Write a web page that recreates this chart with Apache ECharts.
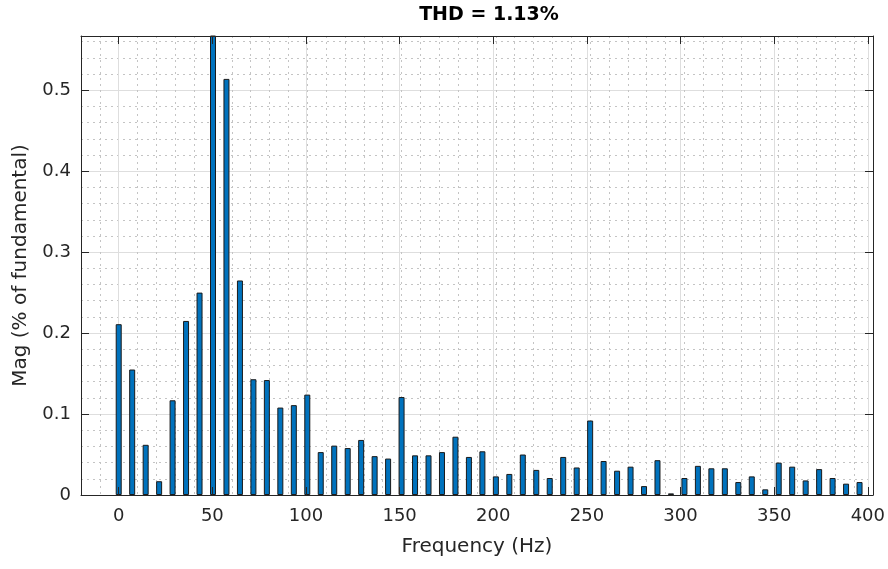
<!DOCTYPE html>
<html>
<head>
<meta charset="utf-8">
<script src="https://cdn.jsdelivr.net/npm/echarts@6/dist/echarts.min.js"></script>
<style>
html,body{margin:0;padding:0;background:#fff;}
#chart{width:888px;height:569px;}
</style>
</head>
<body>
<div id="chart"></div>
<script>
// Frequencies (Hz) of the spectrum bins
const frequencies = [0, 7.14, 14.29, 21.43, 28.57, 35.71, 42.86, 50, 57.14, 64.29,
  71.43, 78.57, 85.71, 92.86, 100, 107.14, 114.29, 121.43, 128.57, 135.71,
  142.86, 150, 157.14, 164.29, 171.43, 178.57, 185.71, 192.86, 200, 207.14,
  214.29, 221.43, 228.57, 235.71, 242.86, 250, 257.14, 264.29, 271.43, 278.57,
  285.71, 292.86, 300, 307.14, 314.29, 321.43, 328.57, 335.71, 342.86, 350,
  357.14, 364.29, 371.43, 378.57, 385.71, 392.86];
// Magnitude (% of fundamental)
const magnitudes = [0.211, 0.155, 0.062, 0.017, 0.117, 0.215, 0.250, 100, 0.514, 0.265,
  0.143, 0.142, 0.108, 0.111, 0.124, 0.053, 0.061, 0.058, 0.068, 0.048,
  0.045, 0.121, 0.049, 0.049, 0.053, 0.072, 0.047, 0.054, 0.023, 0.026,
  0.050, 0.031, 0.021, 0.047, 0.034, 0.092, 0.042, 0.030, 0.035, 0.011,
  0.043, 0.002, 0.021, 0.036, 0.033, 0.033, 0.016, 0.023, 0.007, 0.040,
  0.035, 0.018, 0.032, 0.021, 0.014, 0.016];
const xTickLabels = ['0', '50', '100', '150', '200', '250', '300', '350', '400'];
const yTickLabels = ['0', '0.1', '0.2', '0.3', '0.4', '0.5'];
const titleText = 'THD = 1.13%';
const xName = 'Frequency (Hz)';
const yName = 'Mag (% of fundamental)';

const X_MIN = -20, X_MAX = 400, Y_MIN = 0, Y_MAX = 0.567;
const GRID_L = 81, GRID_R = 15, GRID_T = 36, GRID_B = 74;
const plotW = 888 - GRID_L - GRID_R;
const grid1Left = GRID_L + (0 - X_MIN) / (X_MAX - X_MIN) * plotW;

const FONT = 'DejaVu Sans';
const TXT = '#262626';
const MAJOR = '#dedede';
const MINOR = '#c4c4c4';

const data = frequencies.map((f, i) => [f, magnitudes[i]]);

const off = {show: false};
const boxLine = {show: true, onZero: false, lineStyle: {color: TXT, width: 1}};
const tickIn = {show: true, inside: true, length: 8, lineStyle: {color: TXT, width: 1}};

const chart = echarts.init(document.getElementById('chart'), null, {renderer: 'canvas'});
chart.setOption({
  animation: false,
  backgroundColor: '#fff',
  title: {
    text: titleText,
    left: 484, top: 1, textAlign: 'center',
    textStyle: {fontFamily: FONT, fontWeight: 'bold', fontSize: 19, color: '#000'}
  },
  grid: [
    {left: GRID_L, right: GRID_R, top: GRID_T, bottom: GRID_B},
    {left: grid1Left, right: GRID_R, top: GRID_T, bottom: GRID_B}
  ],
  xAxis: [
    { // 0: minor grid + name
      gridIndex: 0, type: 'value', position: 'bottom', min: X_MIN, max: X_MAX, interval: 10,
      axisLine: off, axisTick: off, axisLabel: off,
      splitLine: {show: true, lineStyle: {color: MINOR, width: 1, type: [2, 4]}},
      name: xName, nameLocation: 'middle', nameGap: 42,
      nameTextStyle: {fontFamily: FONT, fontSize: 20, color: TXT},
      z: 0
    },
    { // 1: top box line
      gridIndex: 0, type: 'value', position: 'top', min: X_MIN, max: X_MAX, interval: 10,
      axisLine: boxLine, axisTick: off, axisLabel: off, splitLine: off, z: 4
    },
    { // 2: bottom box line
      gridIndex: 0, type: 'value', position: 'bottom', min: X_MIN, max: X_MAX, interval: 10,
      axisLine: boxLine, axisTick: off, axisLabel: off, splitLine: off, z: 4
    },
    { // 3: major grid and labels
      gridIndex: 1, type: 'value', position: 'bottom', min: 0, max: X_MAX, interval: 50,
      axisLine: off, axisTick: off,
      axisLabel: {show: true, margin: 12, fontFamily: FONT, fontSize: 18, color: TXT,
        formatter: v => { const i = Math.round(v / 50); return Math.abs(v - i * 50) < 1e-6 ? xTickLabels[i] : ''; }},
      splitLine: {show: true, lineStyle: {color: MAJOR, width: 1}},
      z: 0
    },
    { // 4: bottom ticks
      gridIndex: 1, type: 'value', position: 'bottom', min: 0, max: X_MAX, interval: 50,
      axisLine: off, axisTick: tickIn, axisLabel: off, splitLine: off, z: 4
    },
    { // 5: top ticks
      gridIndex: 1, type: 'value', position: 'top', min: 0, max: X_MAX, interval: 50,
      axisLine: off, axisTick: tickIn, axisLabel: off, splitLine: off, z: 4
    }
  ],
  yAxis: [
    { // 0: minor grid
      gridIndex: 0, type: 'value', position: 'left', min: Y_MIN, max: Y_MAX, interval: 0.02,
      axisLine: off, axisTick: off, axisLabel: off,
      splitLine: {show: true, lineStyle: {color: MINOR, width: 1, type: [2, 4]}},
      z: 0
    },
    { // 1: major grid, labels, name
      gridIndex: 0, type: 'value', position: 'left', min: Y_MIN, max: Y_MAX, interval: 0.1,
      axisLine: off, axisTick: off,
      axisLabel: {show: true, margin: 10, fontFamily: FONT, fontSize: 18, color: TXT,
        formatter: v => { const i = Math.round(v * 10); return Math.abs(v * 10 - i) < 1e-6 ? yTickLabels[i] : ''; }},
      splitLine: {show: true, lineStyle: {color: MAJOR, width: 1}},
      name: yName, nameLocation: 'middle', nameGap: 50, nameRotate: 90,
      nameTextStyle: {fontFamily: FONT, fontSize: 20, color: TXT},
      z: 0
    },
    { // 2: left box line + ticks
      gridIndex: 0, type: 'value', position: 'left', min: Y_MIN, max: Y_MAX, interval: 0.1,
      axisLine: boxLine, axisTick: tickIn, axisLabel: off, splitLine: off, z: 4
    },
    { // 3: right box line + ticks
      gridIndex: 0, type: 'value', position: 'right', min: Y_MIN, max: Y_MAX, interval: 0.1,
      axisLine: boxLine, axisTick: tickIn, axisLabel: off, splitLine: off, z: 4
    },
    { // 4: hidden y for grid 1
      gridIndex: 1, type: 'value', show: false, min: Y_MIN, max: Y_MAX, splitLine: off
    }
  ],
  series: [{
    type: 'bar',
    xAxisIndex: 0, yAxisIndex: 0,
    data: data,
    barWidth: 6,
    clip: true,
    itemStyle: {color: '#0072BD', borderColor: '#1a1a1a', borderWidth: 1},
    z: 2
  }]
});
</script>
</body>
</html>
